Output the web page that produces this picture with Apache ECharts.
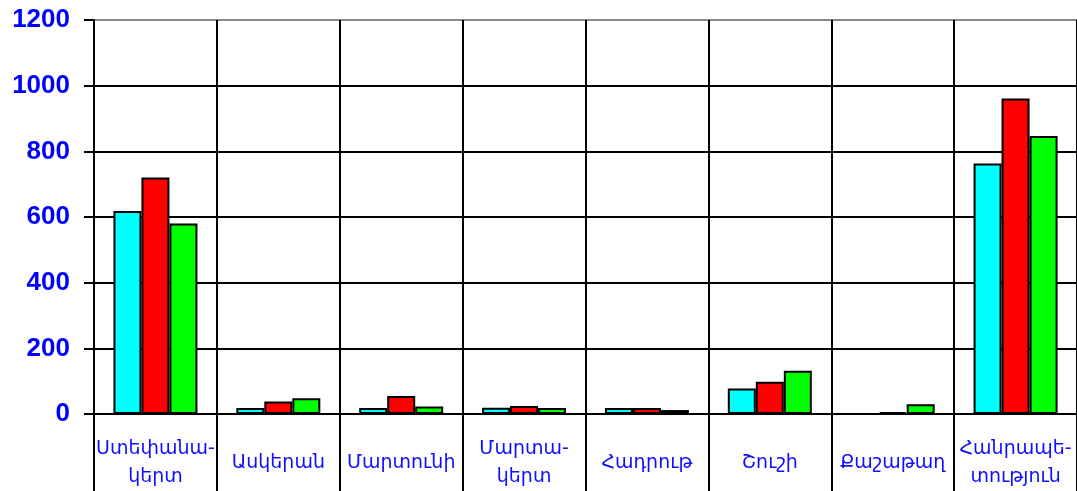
<!DOCTYPE html>
<html>
<head>
<meta charset="utf-8">
<script src="https://cdn.jsdelivr.net/npm/echarts@6/dist/echarts.min.js"></script>
<style>
html,body{margin:0;padding:0;background:#fff;}
#chart{width:1077px;height:491px;}
</style>
</head>
<body>
<div id="chart"></div>
<script>
const categories = ['Ստեփանա-\nկերտ', 'Ասկերան', 'Մարտունի', 'Մարտա-\nկերտ', 'Հադրութ', 'Շուշի', 'Քաշաթաղ', 'Հանրապե-\nտություն'];
const seriesCyan  = [618, 18, 18, 19, 18, 78, null, 763];
const seriesRed   = [720, 38, 55, 24, 18, 98, 6, 961];
const seriesGreen = [580, 48, 23, 18, 12, 132, 30, 847];
const yTicks = [0, 200, 400, 600, 800, 1000, 1200];

const chart = echarts.init(document.getElementById('chart'), null, {renderer: 'canvas'});
const barStyle = c => ({color: c, borderColor: '#000', borderWidth: 2});
const mk = (name, data, c) => ({
  name, type: 'bar', data, barWidth: 28, barGap: '0%',
  itemStyle: barStyle(c), animation: false
});
chart.setOption({
  backgroundColor: '#fff',
  animation: false,
  grid: {left: 94, top: 20, right: -1, bottom: 74, containLabel: false},
  xAxis: {
    type: 'category', data: categories, boundaryGap: true,
    axisLine: {show: true, lineStyle: {color: '#000', width: 2}},
    axisTick: {show: true, length: 80, lineStyle: {color: '#000', width: 2}},
    splitLine: {show: true, lineStyle: {color: '#000', width: 2}},
    axisLabel: {
      color: '#1010ff', fontFamily: 'DejaVu Sans', fontSize: 19,
      lineHeight: 28, margin: 49, verticalAlign: 'middle', interval: 0
    }
  },
  yAxis: {
    type: 'value', min: yTicks[0], max: yTicks[yTicks.length - 1], interval: 200,
    axisLine: {show: true, lineStyle: {color: '#000', width: 2}},
    axisTick: {show: true, length: 10, lineStyle: {color: '#000', width: 2}},
    splitLine: {show: true, lineStyle: {color: ['#000', '#000', '#000', '#000', '#000', '#000', '#888'], width: 2}},
    axisLabel: {
      color: '#0000ff', fontFamily: 'Liberation Sans', fontWeight: 'bold', fontSize: 26, margin: 24,
      formatter: v => String(v)
    }
  },
  series: [
    mk('A', seriesCyan, '#00ffff'),
    mk('B', seriesRed, '#ff0000'),
    mk('C', seriesGreen, '#00ff00')
  ]
});
</script>
</body>
</html>
